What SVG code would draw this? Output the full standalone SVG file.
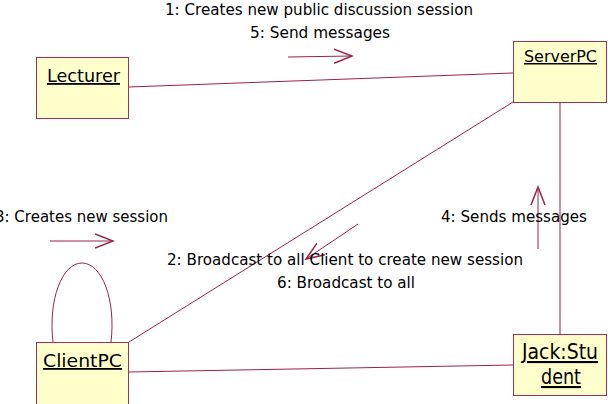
<svg xmlns="http://www.w3.org/2000/svg" width="608" height="404" viewBox="0 0 608 404">
<defs>
<style>
.box{fill:#ffffcc;stroke:#99335a;stroke-width:1}
.ln{fill:none;stroke:#99234a;stroke-width:1}
.lbl{font-family:"DejaVu Sans",sans-serif;font-size:15px;fill:#000}
.nm{font-family:"DejaVu Sans",sans-serif;font-size:18px;fill:#000;text-decoration:underline}
.nmj{font-family:"DejaVu Sans",sans-serif;font-size:21px;fill:#000;text-decoration:underline}
.nms{font-family:"DejaVu Sans",sans-serif;font-size:15px;fill:#000;text-decoration:underline}
</style>
<marker id="open" viewBox="0 0 20 20" refX="18" refY="10" markerWidth="20" markerHeight="20" markerUnits="userSpaceOnUse" orient="auto">
<path d="M0,3 L18,10 L0,17" fill="none" stroke="#99234a" stroke-width="1.5"/>
</marker>
</defs>
<rect width="608" height="404" fill="#fff"/>
<g id="connectors">
<line class="ln" x1="129" y1="87" x2="513" y2="73"/>
<line class="ln" x1="513" y1="102" x2="129" y2="342"/>
<line class="ln" x1="560" y1="102" x2="560" y2="334"/>
<line class="ln" x1="129" y1="372" x2="513" y2="365"/>
<path class="ln" d="M53,342 C48,300 62,263 82,263 C102,263 116,300 111,342"/>
<line class="ln" x1="288" y1="57" x2="352" y2="56" marker-end="url(#open)"/>
<line class="ln" x1="50" y1="241" x2="113" y2="241" marker-end="url(#open)"/>
<line class="ln" x1="358" y1="224" x2="306" y2="259" marker-end="url(#open)"/>
<line class="ln" x1="538" y1="249" x2="538" y2="187" marker-end="url(#open)"/>
<text class="lbl" x="165" y="15" textLength="308" lengthAdjust="spacingAndGlyphs">1: Creates new public discussion session</text>
<text class="lbl" x="250" y="38" textLength="140" lengthAdjust="spacingAndGlyphs">5: Send messages</text>
<text class="lbl" x="-5" y="222" textLength="173" lengthAdjust="spacingAndGlyphs">3: Creates new session</text>
<text class="lbl" x="441" y="222" textLength="146" lengthAdjust="spacingAndGlyphs">4: Sends messages</text>
<text class="lbl" x="167" y="265" textLength="356" lengthAdjust="spacingAndGlyphs">2: Broadcast to all Client to create new session</text>
<text class="lbl" x="277" y="288" textLength="138" lengthAdjust="spacingAndGlyphs">6: Broadcast to all</text>
</g>
<g id="lecturer">
<rect class="box" x="36.5" y="57.5" width="92" height="61"/>
<text class="nm" x="47" y="82" textLength="73" lengthAdjust="spacingAndGlyphs">Lecturer</text>
</g>
<g id="serverpc">
<rect class="box" x="513.5" y="41.5" width="93" height="61"/>
<text class="nms" x="524" y="62" textLength="73" lengthAdjust="spacingAndGlyphs">ServerPC</text>
</g>
<g id="clientpc">
<rect class="box" x="36.5" y="342.5" width="92" height="62"/>
<text class="nm" x="43" y="367" textLength="79" lengthAdjust="spacingAndGlyphs">ClientPC</text>
</g>
<g id="jack">
<rect class="box" x="513.5" y="334.5" width="93" height="61"/>
<text class="nmj" x="522" y="359" textLength="76" lengthAdjust="spacingAndGlyphs">Jack:Stu</text>
<text class="nmj" x="541" y="384" textLength="40" lengthAdjust="spacingAndGlyphs">dent</text>
</g>
</svg>
